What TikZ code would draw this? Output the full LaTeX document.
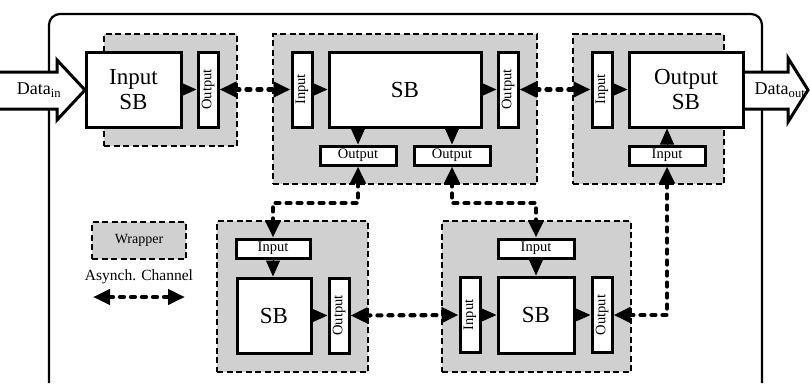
\documentclass[tikz,border=0pt]{standalone}
\usepackage{fontspec}
\setmainfont{Liberation Serif}
\usepackage{graphicx}
\usepackage{tikz}
\usetikzlibrary{arrows.meta,positioning}
\definecolor{WrapGrey}{HTML}{D0D0D0}

\begin{document}
\begin{tikzpicture}[x=1pt,y=-1pt,
  every node/.style={align=center,inner sep=0pt},
  wrap/.style={draw,dash pattern=on 6pt off 3.5pt,line width=1.8pt,fill=WrapGrey},
  sbbox/.style={draw,line width=3pt,fill=white,font=\fontsize{23}{25}\selectfont},
  port/.style={draw,line width=3pt,fill=white,font=\fontsize{14.5}{15}\selectfont},
  hport/.style={port,minimum width=76pt,minimum height=19pt},
  vport/.style={port,minimum width=20pt,minimum height=75pt},
  arr/.style={-{Triangle[length=16pt,width=14pt]},line width=1pt},
  chan/.style={{Triangle[length=17pt,width=15pt]}-{Triangle[length=17pt,width=15pt]},line width=4.2pt,line cap=round,dash pattern=on 4pt off 7pt},
  dataarr/.style={line width=3pt,fill=white,line join=miter},
  frame/.style={line width=2.2pt,rounded corners=11pt}
]
\useasboundingbox (0,0) rectangle (810,383);
\draw[frame] (49,383) -- (49,14) -- (762,14) -- (762,383);
\draw[dataarr] (0,72) -- (57,72) -- (57,60) -- (85,90) -- (57,120) -- (57,109) -- (0,109);
\node[font=\fontsize{18}{20}\selectfont] (din) at (39,90) {Data\textsubscript{in}};
\draw[dataarr] (743,72) -- (788,72) -- (788,58) -- (808,90) -- (788,122) -- (788,109) -- (743,109);
\node[font=\fontsize{18}{20}\selectfont] (dout) at (780,90) {Data\textsubscript{out}};

\node[wrap,minimum width=133pt,minimum height=112pt] (w1) at (170.5,90) {};
\node[wrap,minimum width=264pt,minimum height=150pt] (w2) at (405,109) {};
\node[wrap,minimum width=151pt,minimum height=150pt] (w3) at (648.5,109) {};
\node[wrap,minimum width=151pt,minimum height=151pt] (w4) at (292.5,296.5) {};
\node[wrap,minimum width=189pt,minimum height=151pt] (w5) at (536.5,296.5) {};

\node[sbbox,minimum width=95pt,minimum height=75pt] (insb) at (133.5,89.5) {Input\\SB};
\node[vport] (o1) at (208,89.5) {\rotatebox{90}{Output}};

\node[vport] (i2) at (302,89.5) {\rotatebox{90}{Input}};
\node[sbbox,minimum width=152pt,minimum height=75pt] (sb2) at (405,89.5) {SB};
\node[vport] (o2r) at (508,89.5) {\rotatebox{90}{Output}};
\node[hport] (o2a) at (358,155.5) {Output};
\node[hport] (o2b) at (452,155.5) {Output};

\node[vport] (i3) at (602,89.5) {\rotatebox{90}{Input}};
\node[sbbox,minimum width=114pt,minimum height=75pt] (outsb) at (686,89.5) {Output\\SB};
\node[hport] (i3b) at (667,155.5) {Input};

\node[hport,minimum width=74pt] (i4) at (273,248.5) {Input};
\node[sbbox,minimum width=74pt,minimum height=75pt] (sb4) at (274,315.5) {SB};
\node[vport] (o4) at (339,315.5) {\rotatebox{90}{Output}};

\node[hport] (i5t) at (536,248.5) {Input};
\node[vport] (i5) at (470,315) {\rotatebox{90}{Input}};
\node[sbbox,minimum width=76pt,minimum height=76pt] (sb5) at (536,315) {SB};
\node[vport] (o5) at (602,315) {\rotatebox{90}{Output}};

\draw[arr] (insb.east) -- (o1.west);
\draw[arr] (i2.east) -- (sb2.west);
\draw[arr] (sb2.east) -- (o2r.west);
\draw[arr] (o2a.north |- sb2.south) -- (o2a.north);
\draw[arr] (o2b.north |- sb2.south) -- (o2b.north);
\draw[arr] (i3.east) -- (outsb.west);
\draw[arr] (i3b.north) -- (i3b.north |- outsb.south);
\draw[arr] (i4.south) -- (i4.south |- sb4.north);
\draw[arr] (sb4.east) -- (o4.west);
\draw[arr] (i5t.south) -- (i5t.south |- sb5.north);
\draw[arr] (i5.east) -- (sb5.west);
\draw[arr] (sb5.east) -- (o5.west);

\coordinate (bend) at (0,203);
\draw[chan] (o1.east) -- (i2.west);
\draw[chan] (o2r.east) -- (i3.west);
\draw[chan] (o2a.south) -- (o2a.south |- bend) -| (i4.north);
\draw[chan] (o2b.south) -- (o2b.south |- bend) -| (i5t.north);
\draw[chan] (o4.east) -- (i5.west);
\draw[chan] (o5.east) -| (i3b.south);

\node[wrap,minimum width=94pt,minimum height=37pt,font=\fontsize{14}{15}\selectfont] (lgw) at (139,240.5) {Wrapper};
\node[font=\fontsize{15.5}{17}\selectfont] (lgc) at (139,277) {Asynch. Channel};
\coordinate (lg1) at (93,297);
\coordinate (lg2) at (185,297);
\draw[chan] (lg1) -- (lg2);
\end{tikzpicture}
\end{document}
